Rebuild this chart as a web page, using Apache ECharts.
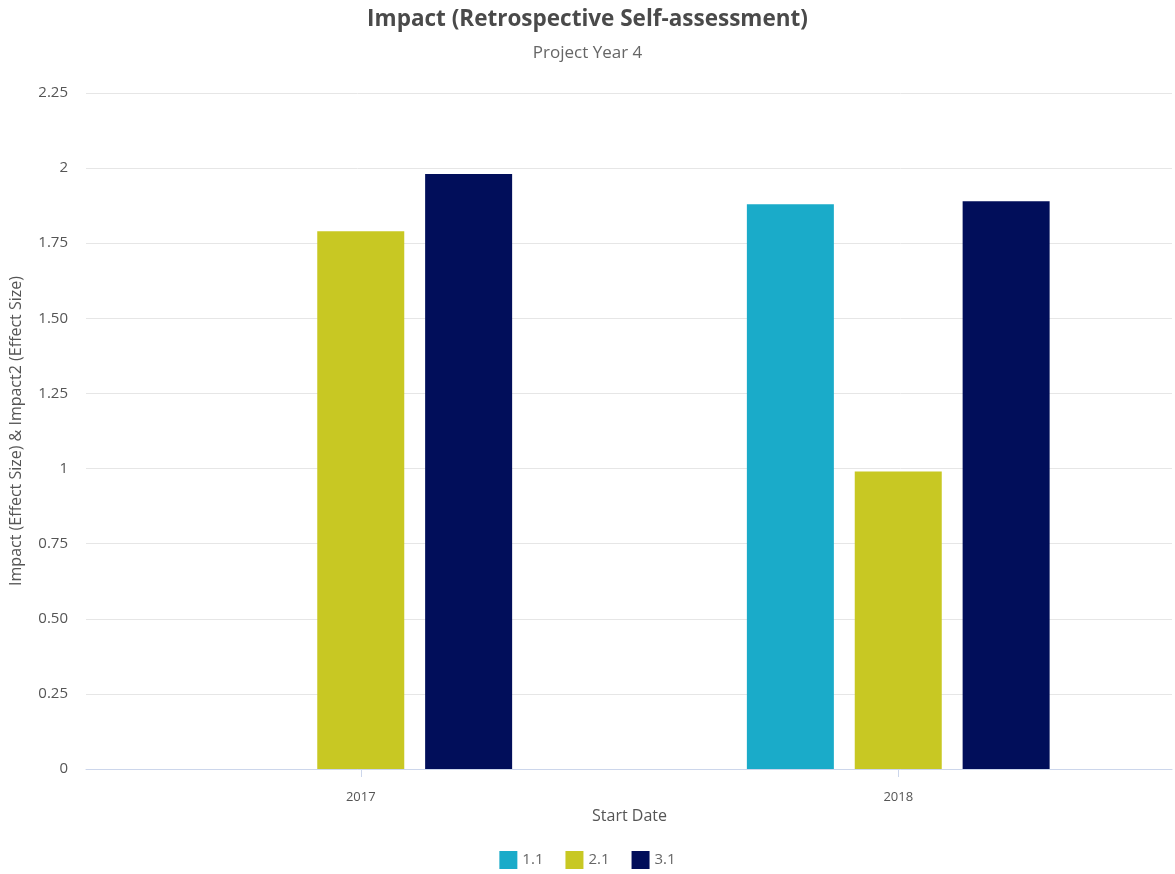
<!DOCTYPE html>
<html><head><meta charset="utf-8">
<script src="https://cdn.jsdelivr.net/npm/echarts@6/dist/echarts.min.js"></script>
<style>html,body{margin:0;padding:0;background:#fff}#c{width:1175px;height:874px}</style>
</head><body><div id="c"></div>
<script>
const categories = ['2017', '2018'];
const s11 = [null, 1.88];
const s21 = [1.79, 0.99];
const s31 = [1.98, 1.89];
const seriesNames = ['1.1', '2.1', '3.1'];
const yTickLabels = ['0', '0.25', '0.50', '0.75', '1', '1.25', '1.50', '1.75', '2', '2.25'];
const colors = ['#1aabc9', '#c8c823', '#010e5a'];
const font = '"Open Sans", sans-serif';

const chart = echarts.init(document.getElementById('c'));
chart.setOption({
  animation: false,
  color: colors,
  textStyle: {fontFamily: font},
  title: {
    text: 'Impact (Retrospective Self-assessment)',
    subtext: 'Project Year 4',
    left: 'center', top: 3, itemGap: 14,
    textStyle: {fontFamily: font, fontSize: 22.5, fontWeight: 'bold', color: '#4a4a4a'},
    subtextStyle: {fontFamily: font, fontSize: 17, color: '#666'}
  },
  legend: {
    bottom: 0, left: 'center', itemWidth: 18, itemHeight: 18, itemGap: 22,
    icon: 'rect',
    textStyle: {fontFamily: font, fontSize: 15, color: '#666'},
    data: seriesNames
  },
  grid: [
    {left: 85, right: 3, top: 93, bottom: 105},
    {left: 92, right: 8, top: 93, bottom: 105}
  ],
  xAxis: [
    {
      gridIndex: 0, type: 'category', data: categories,
      axisLine: {lineStyle: {color: '#ccd6eb'}},
      axisTick: {show: false}, axisLabel: {show: false}
    },
    {
      gridIndex: 1, type: 'category', data: categories,
      name: 'Start Date', nameLocation: 'middle', nameGap: 38,
      nameTextStyle: {fontFamily: font, fontSize: 16, color: '#555'},
      axisLine: {show: false},
      axisTick: {show: true, alignWithLabel: true, length: 8, lineStyle: {color: '#ccd6eb'}},
      axisLabel: {fontFamily: font, fontSize: 13, color: '#555', margin: 22}
    }
  ],
  yAxis: [
    {
      gridIndex: 0, type: 'value', min: 0, max: 2.25, interval: 0.25,
      name: 'Impact (Effect Size) & Impact2 (Effect Size)', nameLocation: 'middle', nameGap: 62,
      nameTextStyle: {fontFamily: font, fontSize: 16, color: '#555'},
      axisLine: {show: false}, axisTick: {show: false},
      splitLine: {lineStyle: {color: '#e6e6e6'}},
      axisLabel: {
        fontFamily: font, fontSize: 15, color: '#555', margin: 18,
        formatter: (v) => yTickLabels[Math.round(v / 0.25)]
      }
    },
    {
      gridIndex: 1, type: 'value', min: 0, max: 2.25, interval: 0.25,
      axisLine: {show: false}, axisTick: {show: false}, axisLabel: {show: false}, splitLine: {show: false}
    }
  ],
  series: [
    {name: seriesNames[0], type: 'bar', xAxisIndex: 1, yAxisIndex: 1, data: s11, barWidth: 87, barGap: '24%'},
    {name: seriesNames[1], type: 'bar', xAxisIndex: 1, yAxisIndex: 1, data: s21, barWidth: 87, barGap: '24%'},
    {name: seriesNames[2], type: 'bar', xAxisIndex: 1, yAxisIndex: 1, data: s31, barWidth: 87, barGap: '24%'}
  ]
});
</script></body></html>
